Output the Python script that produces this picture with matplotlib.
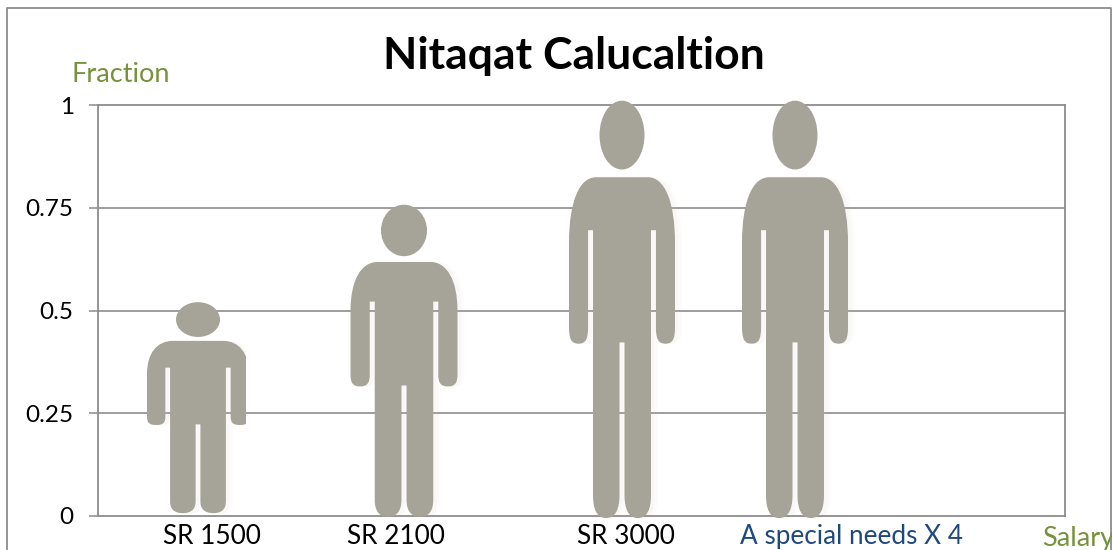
import matplotlib
matplotlib.use("Agg")
import matplotlib.pyplot as plt
from matplotlib.lines import Line2D
from matplotlib.patches import Ellipse, PathPatch, Rectangle
from matplotlib.path import Path

plt.rcParams['font.family'] = ['Lato', 'DejaVu Sans']

W, H = 1112, 550

# Chart values
title = "Nitaqat Calucaltion"
y_ticks = [0, 0.25, 0.5, 0.75, 1]
y_labels = ["0", "0.25", "0.5", "0.75", "1"]
categories = ["SR 1500", "SR 2100", "SR 3000", "A special needs X 4"]
fractions = [0.52, 0.757, 1.01, 1.01]
bases = [0.007, -0.002, -0.005, -0.005]

# Layout, x axis runs in picture pixels
figure_x = [198, 404, 622, 795]
figure_half = [51, 53.5, 53, 53]
head_half = [22, 23, 22.5, 22.5]
label_x = [212, 396, 626, 852]
label_colors = ["black", "black", "black", "#1f497d"]

GRAY = "#8c8c8c"
FIG_COLOR = "#a6a498"
GREEN = "#76923c"

M, L, C = Path.MOVETO, Path.LINETO, Path.CURVE4

# right half of the body, from the top of the shoulders down to the crotch
half = [
    (M, 0, .817), (L, .49, .817),
    (C, .80, .817), (C, 1, .76), (C, 1, .66),
    (L, 1, .458),
    (C, 1, .43), (C, .96, .418), (C, .82, .418),
    (C, .68, .418), (C, .64, .43), (C, .64, .458),
    (L, .64, .69), (L, .547, .69), (L, .547, .055),
    (C, .547, .02), (C, .47, 0), (C, .30, 0),
    (C, .13, 0), (C, .047, .02), (C, .047, .055),
    (L, .047, .421),
]


def body_path(cx, hw, base, top):
    codes = [c for c, _, _ in half]
    xs = [x for _, x, _ in half]
    ys = [y for _, _, y in half]
    # left side is the right side walked backwards
    all_codes = codes + [L] + codes[:0:-1]
    all_x = xs + [-x for x in xs[::-1]]
    all_y = ys + ys[::-1]
    verts = [(cx + x * hw, base + y * (top - base)) for x, y in zip(all_x, all_y)]
    return Path(verts, all_codes)


fig = plt.figure(figsize=(W / 100, H / 100), dpi=100, facecolor="white")
ax = fig.add_axes([98 / W, (H - 516) / H, 967 / W, 411 / H])
ax.set_xlim(98, 1065)
ax.set_ylim(0, 1)

for s in ax.spines.values():
    s.set_color(GRAY)
    s.set_linewidth(1.3)

ax.set_yticks(y_ticks)
ax.set_yticklabels(y_labels, fontsize=17.5)
ax.tick_params(axis='y', length=6.5, width=1.1, color=GRAY, pad=11)
ax.set_xticks(label_x)
ax.set_xticklabels(categories, fontsize=18.8)
ax.tick_params(axis='x', length=0, pad=6)
for lab, col in zip(ax.get_xticklabels(), label_colors):
    lab.set_color(col)

for v in y_ticks[1:-1]:
    ax.axhline(v, color=GRAY, lw=1.2, zorder=1)

for i in range(len(fractions)):
    top, base = fractions[i], bases[i]
    cx, hw = figure_x[i], figure_half[i]
    span = top - base
    parts = []
    # pale soft shadow first
    for off, a in [(7, .04), (4, .06)]:
        shadow = PathPatch(body_path(cx + off, hw, base - .002, top), fc="#c9c4a8", ec="none", alpha=a, zorder=2, clip_on=False)
        ax.add_patch(shadow)
        parts.append(shadow)
    body = PathPatch(body_path(cx, hw, base, top), fc=FIG_COLOR, ec="none", zorder=3, clip_on=False)
    head = Ellipse((cx, base + .918 * span), 2 * head_half[i], .165 * span, fc=FIG_COLOR, ec="none", zorder=3, clip_on=False)
    ax.add_patch(body)
    ax.add_patch(head)
    parts.append(body)
    # first figure is cut off on its right side in the original
    if i == 0:
        clip = Rectangle((cx - 70, -.05), 70 + 48, 1, transform=ax.transData)
        for p in parts:
            p.set_clip_on(True)
            p.set_clip_path(clip)


def fx(px):
    return px / W


def fy(py):
    return 1 - py / H


# outer chart frame
frame_x = [7, 7, 1111, 1111]
frame_y = [550, 8, 8, 550]
fig.add_artist(Line2D([fx(x) for x in frame_x], [fy(y) for y in frame_y], color=GRAY, lw=1.3))

fig.text(fx(574), fy(56), title, fontsize=32, fontweight='bold', ha='center', va='center', color='black')
fig.text(fx(72), fy(82), "Fraction", fontsize=19.5, color=GREEN, ha='left', va='baseline')
fig.text(fx(1042), fy(546), "Salary", fontsize=19.5, color=GREEN, ha='left', va='baseline')

fig.savefig("out.png", dpi=100)
